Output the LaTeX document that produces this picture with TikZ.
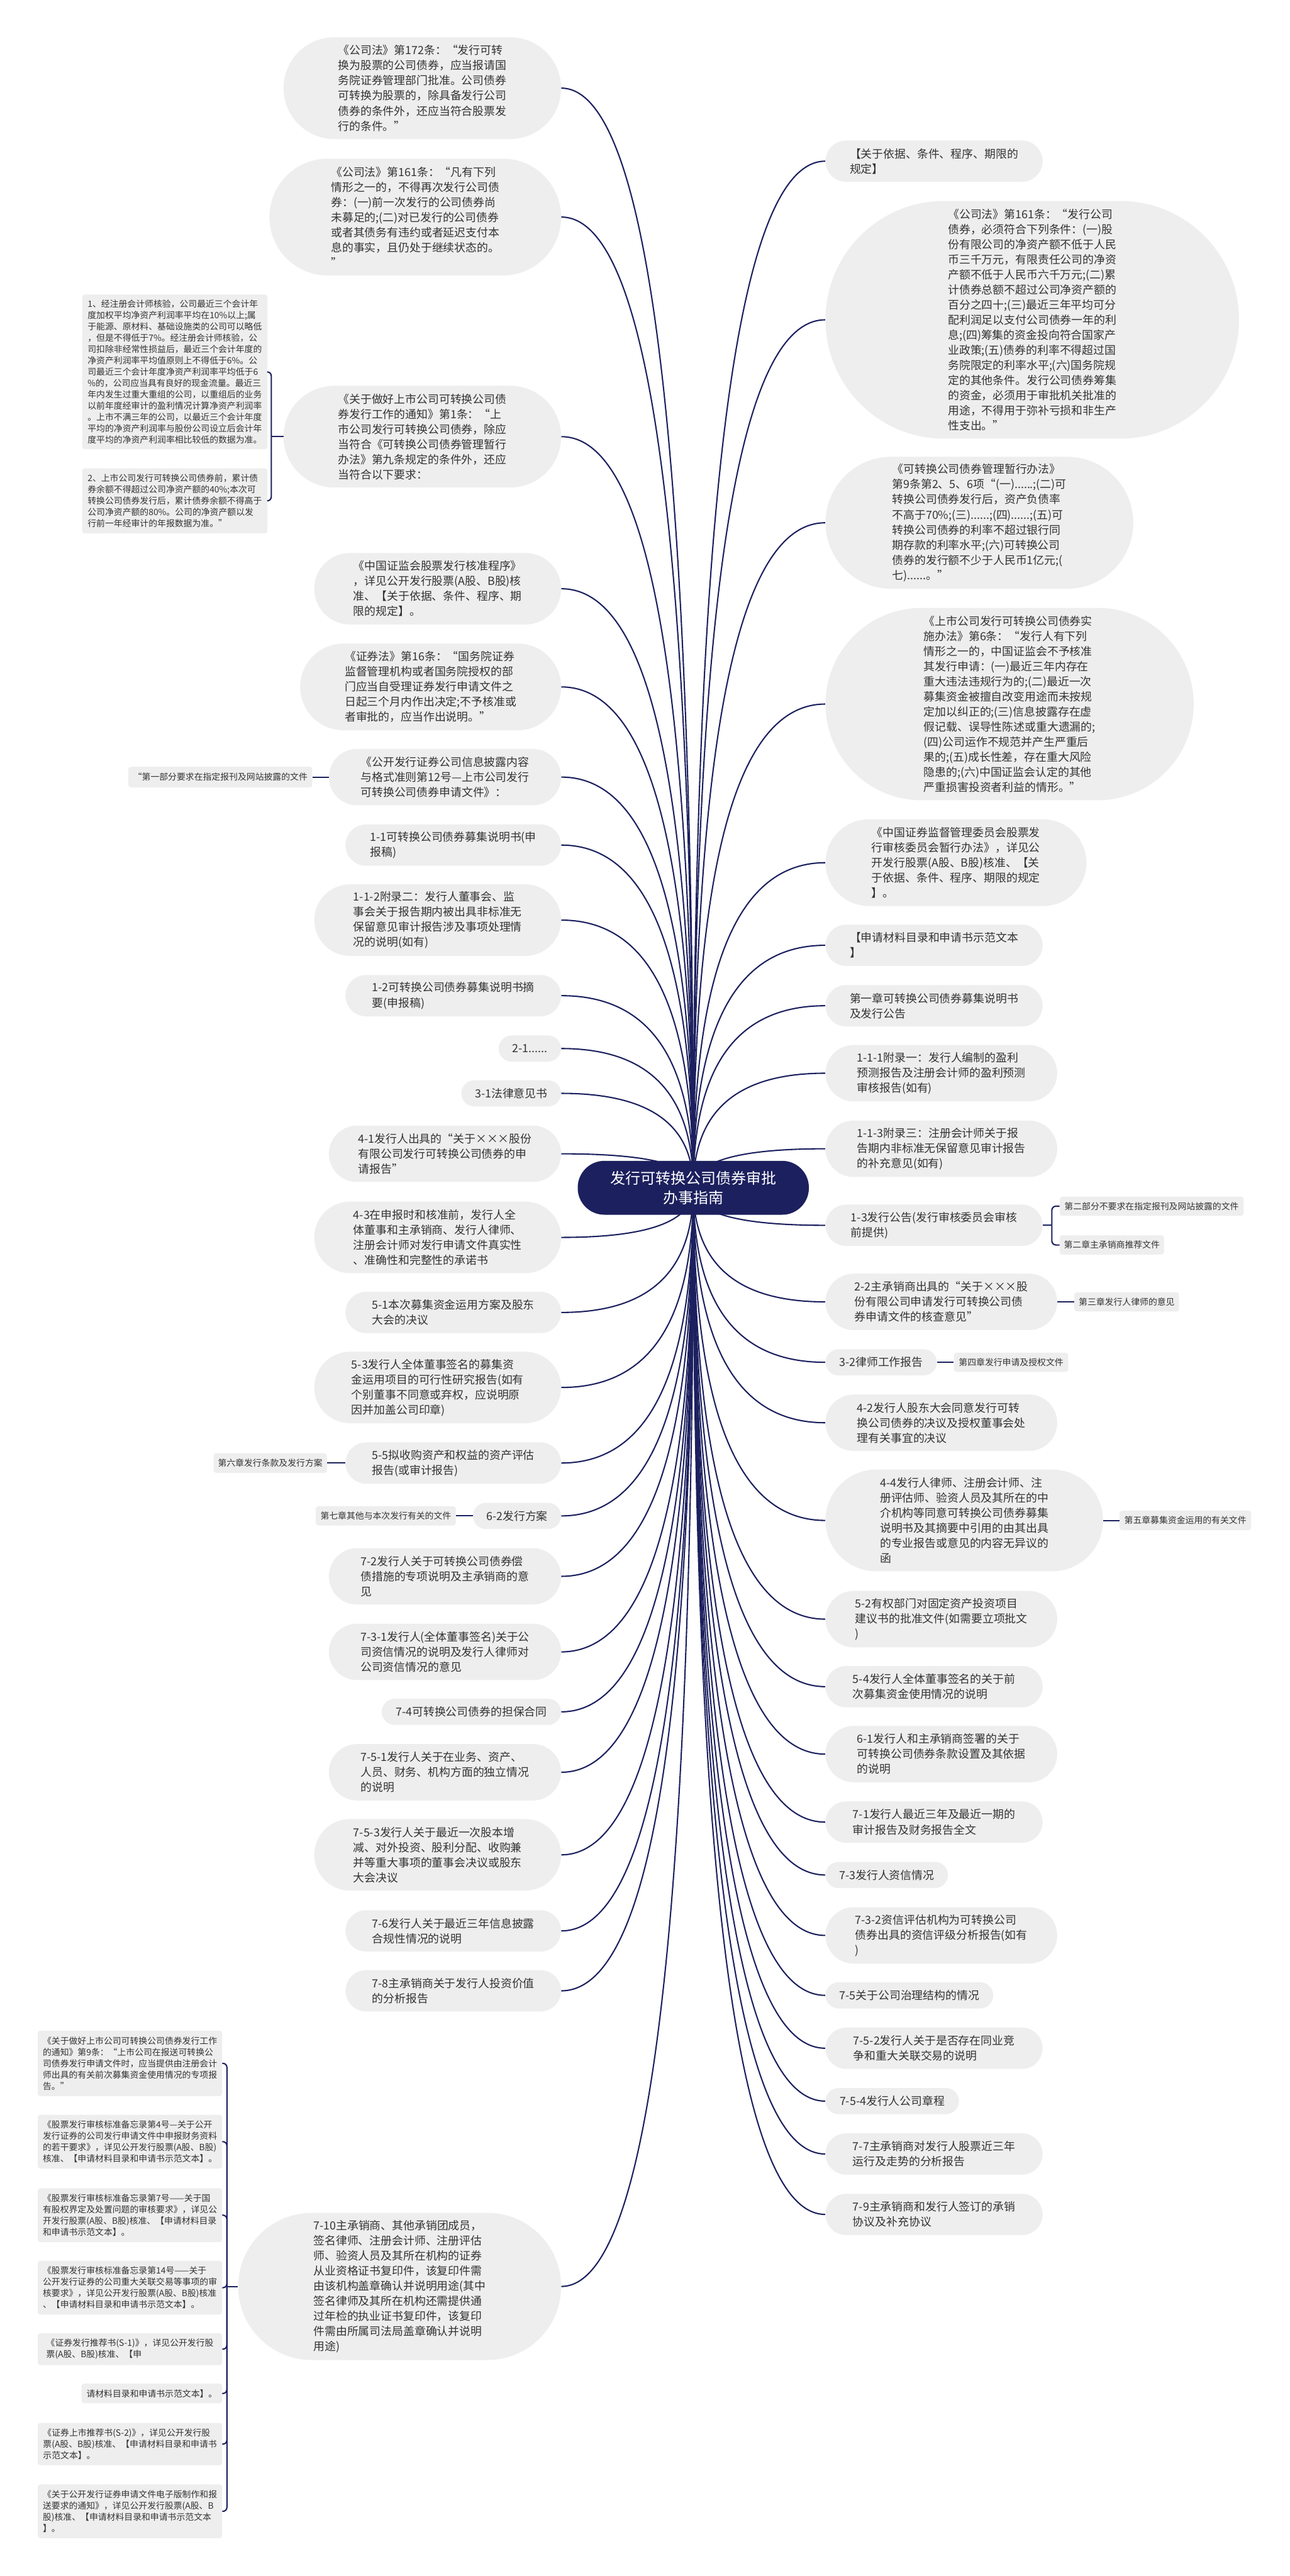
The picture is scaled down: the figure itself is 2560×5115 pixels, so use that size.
\documentclass[tikz,border=0pt]{standalone}
\usepackage{fontspec}
\setmainfont{Noto Sans CJK SC}
\usetikzlibrary{calc,backgrounds}
\definecolor{navy}{RGB}{28,32,94}
\definecolor{boxgray}{RGB}{238,238,238}
\definecolor{textgray}{RGB}{51,51,51}
\tikzset{
  mainbox/.style={fill=boxgray, text=textgray, inner sep=0pt, align=left, font=\fontsize{11.15}{15}\selectfont},
  mbox/.style 2 args={mainbox, minimum width=#1*0.5pt, minimum height=#2*0.5pt, rounded corners=#2*0.25pt},
  sbox/.style 2 args={fill=boxgray, text=textgray, inner sep=0pt, align=left, rounded corners=2.5pt, font=\fontsize{8.65}{11.25}\selectfont, minimum width=#1*0.5pt, minimum height=#2*0.5pt},
  rootbox/.style={fill=navy, text=white, align=center, inner sep=0pt, font=\fontsize{15}{19}\selectfont, minimum width=229.5pt, minimum height=53.5pt, rounded corners=26.5pt},
  link/.style={draw=navy, line width=1.3pt},
  sublink/.style={draw=navy, line width=1.3pt, rounded corners=4pt},
}
\begin{document}
\begin{tikzpicture}[x=0.5pt,y=0.5pt,yscale=-1,xscale=1]
\useasboundingbox (0,0) rectangle (2560,5115);

% Text Node: root
\node[rootbox] (root) at (1376.5,2358.5) {发行可转换公司债券审批\\办事指南};

%Shape: left branch
\node[mbox={551}{202}] (l1) at (838.5,175) {《公司法》第172条：“发行可转\\换为股票的公司债券，应当报请国\\务院证券管理部门批准。公司债券\\可转换为股票的，除具备发行公司\\债券的条件外，还应当符合股票发\\行的条件。”};
\node[mbox={579}{232}] (l2) at (824.5,431) {《公司法》第161条：“凡有下列\\情形之一的，不得再次发行公司债\\券：(一)前一次发行的公司债券尚\\未募足的;(二)对已发行的公司债券\\或者其债务有违约或者延迟支付本\\息的事实，且仍处于继续状态的。\\”};
\node[mbox={551}{202}] (l3) at (838.5,867) {《关于做好上市公司可转换公司债\\券发行工作的通知》第1条：“上\\市公司发行可转换公司债券，除应\\当符合《可转换公司债券管理暂行\\办法》第九条规定的条件外，还应\\当符合以下要求：};
\node[mbox={490}{142}] (l4) at (869,1169) {《中国证监会股票发行核准程序》\\，详见公开发行股票(A股、B股)核\\准、【关于依据、条件、程序、期\\限的规定】。};
\node[mbox={518}{172}] (l5) at (855,1364) {《证券法》第16条：“国务院证券\\监督管理机构或者国务院授权的部\\门应当自受理证券发行申请文件之\\日起三个月内作出决定;不予核准或\\者审批的，应当作出说明。”};
\node[mbox={461}{112}] (l6) at (883.5,1543) {《公开发行证券公司信息披露内容\\与格式准则第12号—上市公司发行\\可转换公司债券申请文件》：};
\node[mbox={428}{82}] (l7) at (900,1678) {1-1可转换公司债券募集说明书(申\\报稿)};
\node[mbox={490}{142}] (l8) at (869,1827) {1-1-2附录二：发行人董事会、监\\事会关于报告期内被出具非标准无\\保留意见审计报告涉及事项处理情\\况的说明(如有)};
\node[mbox={428}{82}] (l9) at (900,1977) {1-2可转换公司债券募集说明书摘\\要(申报稿)};
\node[mbox={124}{52}] (l10) at (1052,2082) {2-1......};
\node[mbox={198}{52}] (l11) at (1015,2171) {3-1法律意见书};
\node[mbox={461}{112}] (l12) at (883.5,2291) {4-1发行人出具的“关于×××股份\\有限公司发行可转换公司债券的申\\请报告”};
\node[mbox={490}{142}] (l13) at (869,2457) {4-3在申报时和核准前，发行人全\\体董事和主承销商、发行人律师、\\注册会计师对发行申请文件真实性\\、准确性和完整性的承诺书};
\node[mbox={428}{82}] (l14) at (900,2606) {5-1本次募集资金运用方案及股东\\大会的决议};
\node[mbox={490}{142}] (l15) at (869,2755) {5-3发行人全体董事签名的募集资\\金运用项目的可行性研究报告(如有\\个别董事不同意或弃权，应说明原\\因并加盖公司印章)};
\node[mbox={428}{82}] (l16) at (900,2905) {5-5拟收购资产和权益的资产评估\\报告(或审计报告)};
\node[mbox={175}{52}] (l17) at (1026.5,3010) {6-2发行方案};
\node[mbox={461}{112}] (l18) at (883.5,3130) {7-2发行人关于可转换公司债券偿\\债措施的专项说明及主承销商的意\\见};
\node[mbox={461}{112}] (l19) at (883.5,3280) {7-3-1发行人(全体董事签名)关于公\\司资信情况的说明及发行人律师对\\公司资信情况的意见};
\node[mbox={356}{52}] (l20) at (936,3399) {7-4可转换公司债券的担保合同};
\node[mbox={461}{112}] (l21) at (883.5,3519) {7-5-1发行人关于在业务、资产、\\人员、财务、机构方面的独立情况\\的说明};
\node[mbox={490}{142}] (l22) at (869,3683) {7-5-3发行人关于最近一次股本增\\减、对外投资、股利分配、收购兼\\并等重大事项的董事会决议或股东\\大会决议};
\node[mbox={428}{82}] (l23) at (900,3834) {7-6发行人关于最近三年信息披露\\合规性情况的说明};
\node[mbox={428}{82}] (l24) at (900,3953) {7-8主承销商关于发行人投资价值\\的分析报告};
\node[mbox={641}{292}] (l25) at (793.5,4540) {7-10主承销商、其他承销团成员，\\签名律师、注册会计师、注册评估\\师、验资人员及其所在机构的证券\\从业资格证书复印件，该复印件需\\由该机构盖章确认并说明用途(其中\\签名律师及其所在机构还需提供通\\过年检的执业证书复印件，该复印\\件需由所属司法局盖章确认并说明\\用途)};

%Shape: right branch
\node[mbox={431}{82}] (r1) at (1854.5,320) {【关于依据、条件、程序、期限的\\规定】};
\node[mbox={821}{472}] (r2) at (2049.5,635) {《公司法》第161条：“发行公司\\债券，必须符合下列条件：(一)股\\份有限公司的净资产额不低于人民\\币三千万元，有限责任公司的净资\\产额不低于人民币六千万元;(二)累\\计债券总额不超过公司净资产额的\\百分之四十;(三)最近三年平均可分\\配利润足以支付公司债券一年的利\\息;(四)筹集的资金投向符合国家产\\业政策;(五)债券的利率不得超过国\\务院限定的利率水平;(六)国务院规\\定的其他条件。发行公司债券筹集\\的资金，必须用于审批机关批准的\\用途，不得用于弥补亏损和非生产\\性支出。”};
\node[mbox={611}{262}] (r3) at (1944.5,1038) {《可转换公司债券管理暂行办法》\\第9条第2、5、6项“(一)......;(二)可\\转换公司债券发行后，资产负债率\\不高于70\%;(三)......;(四)......;(五)可\\转换公司债券的利率不超过银行同\\期存款的利率水平;(六)可转换公司\\债券的发行额不少于人民币1亿元;(\\七)......。”};
\node[mbox={731}{382}] (r4) at (2004.5,1398) {《上市公司发行可转换公司债券实\\施办法》第6条：“发行人有下列\\情形之一的，中国证监会不予核准\\其发行申请：(一)最近三年内存在\\重大违法违规行为的;(二)最近一次\\募集资金被擅自改变用途而未按规\\定加以纠正的;(三)信息披露存在虚\\假记载、误导性陈述或重大遗漏的;\\(四)公司运作不规范并产生严重后\\果的;(五)成长性差，存在重大风险\\隐患的;(六)中国证监会认定的其他\\严重损害投资者利益的情形。”};
\node[mbox={518}{172}] (r5) at (1898,1713) {《中国证券监督管理委员会股票发\\行审核委员会暂行办法》，详见公\\开发行股票(A股、B股)核准、【关\\于依据、条件、程序、期限的规定\\】。};
\node[mbox={431}{82}] (r6) at (1854.5,1877) {【申请材料目录和申请书示范文本\\】};
\node[mbox={431}{82}] (r7) at (1854.5,1997) {第一章可转换公司债券募集说明书\\及发行公告};
\node[mbox={460}{112}] (r8) at (1869,2131) {1-1-1附录一：发行人编制的盈利\\预测报告及注册会计师的盈利预测\\审核报告(如有)};
\node[mbox={460}{112}] (r9) at (1869,2281) {1-1-3附录三：注册会计师关于报\\告期内非标准无保留意见审计报告\\的补充意见(如有)};
\node[mbox={431}{82}] (r10) at (1854.5,2433) {1-3发行公告(发行审核委员会审核\\前提供)};
\node[mbox={460}{112}] (r11) at (1869,2585) {2-2主承销商出具的“关于×××股\\份有限公司申请发行可转换公司债\\券申请文件的核查意见”};
\node[mbox={221}{52}] (r12) at (1749.5,2705) {3-2律师工作报告};
\node[mbox={460}{112}] (r13) at (1869,2825) {4-2发行人股东大会同意发行可转\\换公司债券的决议及授权董事会处\\理有关事宜的决议};
\node[mbox={551}{202}] (r14) at (1914.5,3019) {4-4发行人律师、注册会计师、注\\册评估师、验资人员及其所在的中\\介机构等同意可转换公司债券募集\\说明书及其摘要中引用的由其出具\\的专业报告或意见的内容无异议的\\函};
\node[mbox={460}{112}] (r15) at (1869,3215) {5-2有权部门对固定资产投资项目\\建议书的批准文件(如需要立项批文\\)};
\node[mbox={431}{82}] (r16) at (1854.5,3349) {5-4发行人全体董事签名的关于前\\次募集资金使用情况的说明};
\node[mbox={460}{112}] (r17) at (1869,3483) {6-1发行人和主承销商签署的关于\\可转换公司债券条款设置及其依据\\的说明};
\node[mbox={431}{82}] (r18) at (1854.5,3618) {7-1发行人最近三年及最近一期的\\审计报告及财务报告全文};
\node[mbox={243}{52}] (r19) at (1760.5,3723) {7-3发行人资信情况};
\node[mbox={460}{112}] (r20) at (1869,3843) {7-3-2资信评估机构为可转换公司\\债券出具的资信评级分析报告(如有\\)};
\node[mbox={333}{52}] (r21) at (1805.5,3962) {7-5关于公司治理结构的情况};
\node[mbox={431}{82}] (r22) at (1854.5,4067) {7-5-2发行人关于是否存在同业竞\\争和重大关联交易的说明};
\node[mbox={265}{52}] (r23) at (1771.5,4172) {7-5-4发行人公司章程};
\node[mbox={431}{82}] (r24) at (1854.5,4277) {7-7主承销商对发行人股票近三年\\运行及走势的分析报告};
\node[mbox={431}{82}] (r25) at (1854.5,4397) {7-9主承销商和发行人签订的承销\\协议及补充协议};

% Text Node: small leaves
\node[sbox={368}{307}] (l3a) at (347,738.5) {1、经注册会计师核验，公司最近三个会计年\\度加权平均净资产利润率平均在10\%以上;属\\于能源、原材料、基础设施类的公司可以略低\\，但是不得低于7\%。经注册会计师核验，公\\司扣除非经常性损益后，最近三个会计年度的\\净资产利润率平均值原则上不得低于6\%。公\\司最近三个会计年度净资产利润率平均低于6\\\%的，公司应当具有良好的现金流量。最近三\\年内发生过重大重组的公司，以重组后的业务\\以前年度经审计的盈利情况计算净资产利润率\\。上市不满三年的公司，以最近三个会计年度\\平均的净资产利润率与股份公司设立后会计年\\度平均的净资产利润率相比较低的数据为准。};
\node[sbox={368}{129}] (l3b) at (347,994.5) {2、上市公司发行可转换公司债券前，累计债\\券余额不得超过公司净资产额的40\%;本次可\\转换公司债券发行后，累计债券余额不得高于\\公司净资产额的80\%。公司的净资产额以发\\行前一年经审计的年报数据为准。”};
\node[sbox={365}{41}] (l6a) at (437.5,1543) {“第一部分要求在指定报刊及网站披露的文件};
\node[sbox={225}{39}] (l16a) at (536.5,2905) {第六章发行条款及发行方案};
\node[sbox={278}{38}] (l17a) at (766,3010) {第七章其他与本次发行有关的文件};
\node[sbox={366}{130}] (l25a) at (258,4097) {《关于做好上市公司可转换公司债券发行工作\\的通知》第9条：“上市公司在报送可转换公\\司债券发行申请文件时，应当提供由注册会计\\师出具的有关前次募集资金使用情况的专项报\\告。”};
\node[sbox={366}{107}] (l25b) at (258,4252.5) {《股票发行审核标准备忘录第4号—关于公开\\发行证券的公司发行申请文件中申报财务资料\\的若干要求》，详见公开发行股票(A股、B股)\\核准、【申请材料目录和申请书示范文本】。};
\node[sbox={366}{107}] (l25c) at (258,4398.5) {《股票发行审核标准备忘录第7号——关于国\\有股权界定及处置问题的审核要求》，详见公\\开发行股票(A股、B股)核准、【申请材料目录\\和申请书示范文本】。};
\node[sbox={366}{107}] (l25d) at (258,4542.5) {《股票发行审核标准备忘录第14号——关于\\公开发行证券的公司重大关联交易等事项的审\\核要求》，详见公开发行股票(A股、B股)核准\\、【申请材料目录和申请书示范文本】。};
\node[sbox={366}{63}] (l25e) at (258,4664.5) {《证券发行推荐书(S-1)》，详见公开发行股\\票(A股、B股)核准、【申};
\node[sbox={279}{39}] (l25f) at (301.5,4752.5) {请材料目录和申请书示范文本】。};
\node[sbox={366}{84}] (l25g) at (258,4853) {《证券上市推荐书(S-2)》，详见公开发行股\\票(A股、B股)核准、【申请材料目录和申请书\\示范文本】。};
\node[sbox={366}{107}] (l25h) at (258,4986.5) {《关于公开发行证券申请文件电子版制作和报\\送要求的通知》，详见公开发行股票(A股、B\\股)核准、【申请材料目录和申请书示范文本\\】。};
\node[sbox={365}{38}] (r10a) at (2286.5,2395) {第二部分不要求在指定报刊及网站披露的文件};
\node[sbox={207}{38}] (r10b) at (2207.5,2472) {第二章主承销商推荐文件};
\node[sbox={208}{38}] (r11a) at (2237,2585) {第三章发行人律师的意见};
\node[sbox={227}{38}] (r12a) at (2007.5,2705) {第四章发行申请及授权文件};
\node[sbox={261}{39}] (r14a) at (2353.5,3019) {第五章募集资金运用的有关文件};

% connectors from the root
\begin{scope}[on background layer]
\fill[white] (0,0) rectangle (2560,5115);
\foreach \i in {1,...,25}{
  \draw[link] (root.center) .. controls ($(root.center)!0.67!(root.center |- l\i.east)$) and ($(l\i.east)!0.67!(root.center |- l\i.east)$) .. (l\i.east);
  \draw[link] (root.center) .. controls ($(root.center)!0.67!(root.center |- r\i.west)$) and ($(r\i.west)!0.67!(root.center |- r\i.west)$) .. (r\i.west);
}
\end{scope}

% connectors to the leaves
\draw[sublink] (l3.west) -- ++(-24,0) coordinate (l3j);
\draw[sublink] (l3j) |- (l3a.east);
\draw[sublink] (l3j) |- (l3b.east);
\draw[sublink] (l6.west) -- (l6a.east);
\draw[sublink] (l16.west) -- (l16a.east);
\draw[sublink] (l17.west) -- (l17a.east);
\draw[sublink] (l25.west) -- ++(-22,0) coordinate (l25j);
\foreach \c in {a,...,h}
  \draw[sublink] (l25j) |- (l25\c.east);
\draw[sublink] (r10.east) -- ++(18,0) coordinate (r10j);
\draw[sublink] (r10j) |- (r10a.west);
\draw[sublink] (r10j) |- (r10b.west);
\draw[sublink] (r11.east) -- (r11a.west);
\draw[sublink] (r12.east) -- (r12a.west);
\draw[sublink] (r14.east) -- (r14a.west);

\end{tikzpicture}
\end{document}
